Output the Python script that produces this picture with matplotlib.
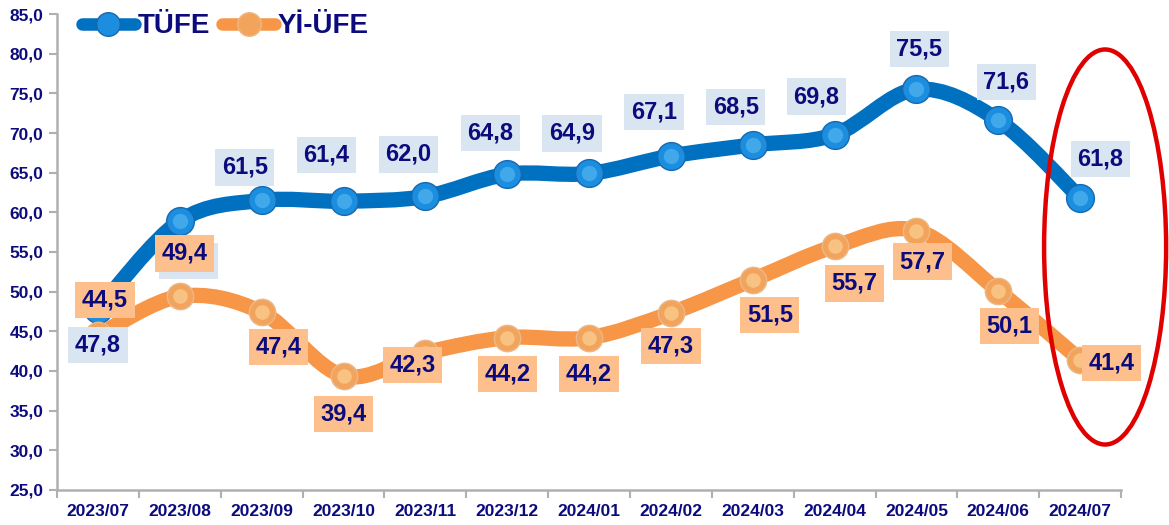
import matplotlib
matplotlib.use("Agg")
import matplotlib.pyplot as plt
from matplotlib.path import Path
from matplotlib.patches import PathPatch, Ellipse
from matplotlib.lines import Line2D
from matplotlib.ticker import FixedLocator, FuncFormatter

plt.rcParams['font.family'] = ['Liberation Sans', 'DejaVu Sans']

months = ["2023/07", "2023/08", "2023/09", "2023/10", "2023/11", "2023/12", "2024/01",
          "2024/02", "2024/03", "2024/04", "2024/05", "2024/06", "2024/07"]
tufe = [47.8, 58.9, 61.5, 61.4, 62.0, 64.8, 64.9, 67.1, 68.5, 69.8, 75.5, 71.6, 61.8]
yiufe = [44.5, 49.4, 47.4, 39.4, 42.3, 44.2, 44.2, 47.3, 51.5, 55.7, 57.7, 50.1, 41.4]

# label offsets in pixels (dx, dy) relative to each point
tufe_off = [(0, -36), (9, -40), (-17, 33), (-17, 46), (-17, 42), (-17, 41), (-17, 40),
            (-17, 44), (-17, 38), (-18, 38), (3, 40), (8, 38), (20, 39)]
yiufe_off = [(7, 35), (5, 43), (17, -35), (0, -38), (-13, -12), (0, -36), (0, -36),
             (0, -33), (17, -35), (20, -37), (6, -31), (11, -35), (31, -3)]

navy = "#0b0b7d"
blue = "#0070c0"
orange = "#f79646"

fig = plt.figure(figsize=(11.69, 5.25), dpi=100)
ax = fig.add_axes([0.0488, 0.0667, 0.9102, 0.9066])

x = list(range(len(months)))


def smooth_path(xs, ys):
    pts = list(zip(xs, ys))
    verts = [pts[0]]
    codes = [Path.MOVETO]
    n = len(pts)
    for i in range(n - 1):
        p0 = pts[i - 1] if i > 0 else pts[i]
        p1 = pts[i]
        p2 = pts[i + 1]
        p3 = pts[i + 2] if i + 2 < n else pts[i + 1]
        c1 = (p1[0] + (p2[0] - p0[0]) / 6, p1[1] + (p2[1] - p0[1]) / 6)
        c2 = (p2[0] - (p3[0] - p1[0]) / 6, p2[1] - (p3[1] - p1[1]) / 6)
        verts += [c1, c2, p2]
        codes += [Path.CURVE4] * 3
    return Path(verts, codes)


def draw_series(vals, color, face, edge, hi, box, offs, z, lz, ms):
    patch = PathPatch(smooth_path(x, vals), facecolor="none", edgecolor=color,
                      lw=11, capstyle="round", joinstyle="round", zorder=z)
    ax.add_patch(patch)
    ax.plot(x, vals, "o", ms=ms, mfc=face, mec=edge, mew=1.0, zorder=z + 0.1)
    ax.plot(x, vals, "o", ms=ms * 0.55, mfc=hi, mec="none", alpha=0.6, zorder=z + 0.2)
    for xi, v, (dx, dy) in zip(x, vals, offs):
        ax.annotate(f"{v:.1f}".replace(".", ","), (xi, v), xytext=(dx, dy),
                    textcoords="offset pixels", ha="center", va="center",
                    fontsize=17, fontweight="bold", color=navy, zorder=lz,
                    bbox=dict(boxstyle="square,pad=0.28", fc=box, ec="none"))


draw_series(tufe, blue, "#1b8ee0", "#1668b0", "#5cbcf2", "#d9e5f1", tufe_off, 3, 20, 20)
draw_series(yiufe, orange, "#f3a45c", "#e9b98c", "#fcd89c", "#fdc08c", yiufe_off, 5, 21, 19)

ax.set_xlim(-0.5, len(months) - 0.5)
ax.set_ylim(25, 85)
ax.set_yticks([25 + 5 * i for i in range(13)])
ax.yaxis.set_major_formatter(FuncFormatter(lambda v, p: f"{v:.1f}".replace(".", ",")))

ax.xaxis.set_major_locator(FixedLocator([i - 0.5 for i in range(len(months) + 1)]))
ax.xaxis.set_major_formatter(FuncFormatter(lambda v, p: ""))
ax.xaxis.set_minor_locator(FixedLocator(x))
ax.set_xticklabels(months, minor=True)
ax.tick_params(axis="x", which="minor", length=0, pad=10)
ax.tick_params(axis="x", which="major", length=6, width=1.5, color="#b0b0b0")
ax.tick_params(axis="y", length=6, width=1.5, color="#b0b0b0", pad=4)
for lab in ax.get_yticklabels() + ax.get_xticklabels(minor=True):
    lab.set_fontsize(12.5)
    lab.set_fontweight("bold")
    lab.set_color(navy)

for s in ["top", "right"]:
    ax.spines[s].set_visible(False)
for s in ["left", "bottom"]:
    ax.spines[s].set_color("#b0b0b0")
    ax.spines[s].set_linewidth(1.8)

ell = Ellipse((0.985, 0.5105), 0.1147, 0.83, transform=ax.transAxes, fill=False,
              ec="#e00000", lw=3.2, clip_on=False, zorder=30)
ax.add_patch(ell)

handles = [
    Line2D([], [], color=blue, lw=9, solid_capstyle="round", marker="o", ms=17,
           mfc="#1b8ee0", mec="#1668b0"),
    Line2D([], [], color=orange, lw=9, solid_capstyle="round", marker="o", ms=17,
           mfc="#f3a45c", mec="#e9b98c"),
]
leg = ax.legend(handles, ["TÜFE", "Yİ-ÜFE"], loc="upper left", bbox_to_anchor=(0.0, 1.054),
                ncol=2, frameon=False, handlelength=1.9, handletextpad=0.1,
                columnspacing=0.45, prop=dict(size=20, weight="bold"))
for t in leg.get_texts():
    t.set_color(navy)

fig.savefig("out.png", dpi=100)
